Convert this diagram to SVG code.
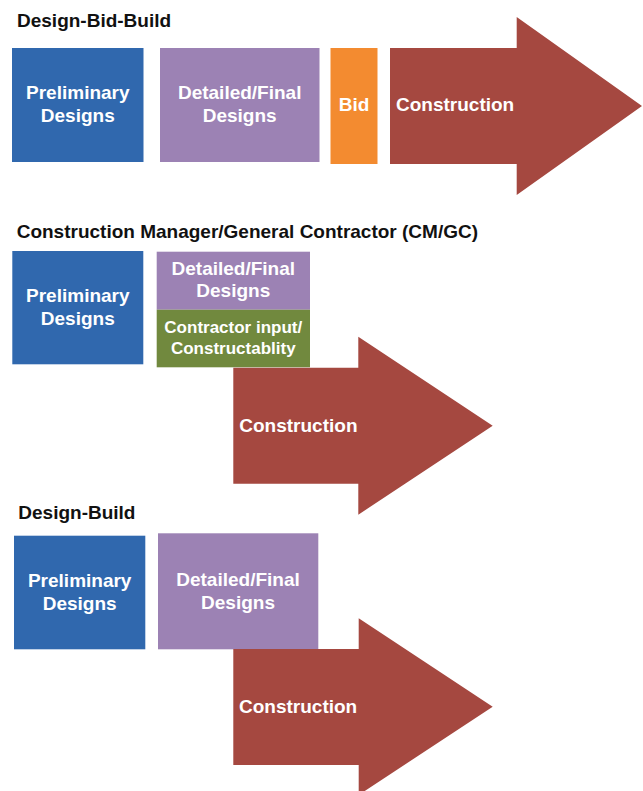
<svg xmlns="http://www.w3.org/2000/svg" width="643" height="791" viewBox="0 0 643 791">
<style>
text{font-family:"Liberation Sans",Arial,sans-serif;font-weight:bold}
.title{font-size:19px;fill:#111}
.lbl{font-size:19px;fill:#fff;text-anchor:middle}
.lbll{font-size:19px;fill:#fff}
.sm{font-size:17px;fill:#fff;text-anchor:middle}
.blue{fill:#3068ae}
.purple{fill:#9c82b4}
.orange{fill:#f38b30}
.green{fill:#71893e}
.red{fill:#a54840}
</style>
<rect width="643" height="791" fill="#fff"/>
<!-- Design-Bid-Build -->
<g id="dbb">
<text class="title" x="17" y="27">Design-Bid-Build</text>
<g id="dbb-prelim">
<rect class="blue" x="12" y="48" width="131.5" height="114"/>
<text class="lbl" x="77.8" y="99">Preliminary</text>
<text class="lbl" x="77.8" y="121.7">Designs</text>
</g>
<g id="dbb-detailed">
<rect class="purple" x="160" y="48" width="159.5" height="114"/>
<text class="lbl" x="239.7" y="99">Detailed/Final</text>
<text class="lbl" x="239.7" y="121.7">Designs</text>
</g>
<g id="dbb-bid">
<rect class="orange" x="330.5" y="48" width="47" height="116"/>
<text class="lbl" x="354" y="111">Bid</text>
</g>
<g id="dbb-construction">
<path class="red" d="M390,48 H516.7 V17 L642,106 L516.7,195 V164 H390 Z"/>
<text class="lbll" x="396" y="111">Construction</text>
</g>
</g>
<!-- CM/GC -->
<g id="cmgc">
<text class="title" x="16.7" y="237.7">Construction Manager/General Contractor (CM/GC)</text>
<g id="cmgc-prelim">
<rect class="blue" x="12.3" y="251" width="131" height="113.3"/>
<text class="lbl" x="77.8" y="302.3">Preliminary</text>
<text class="lbl" x="77.8" y="325">Designs</text>
</g>
<g id="cmgc-detailed">
<rect class="purple" x="156.7" y="251.7" width="153.3" height="58"/>
<text class="lbl" x="233.3" y="275">Detailed/Final</text>
<text class="lbl" x="233.3" y="297.3">Designs</text>
</g>
<g id="cmgc-contractor">
<rect class="green" x="156.7" y="309.7" width="153.3" height="57.6"/>
<text class="sm" x="233.3" y="333.3">Contractor input/</text>
<text class="sm" x="233.3" y="354.3">Constructablity</text>
</g>
<g id="cmgc-construction">
<path class="red" d="M233.3,367.7 H358.3 V336.7 L492.7,425.7 L358.3,514.7 V483.7 H233.3 Z"/>
<text class="lbll" x="239.3" y="431.7">Construction</text>
</g>
</g>
<!-- Design-Build -->
<g id="db">
<text class="title" x="18.3" y="519.3">Design-Build</text>
<g id="db-prelim">
<rect class="blue" x="14" y="535.7" width="131.3" height="113.6"/>
<text class="lbl" x="79.7" y="587.3">Preliminary</text>
<text class="lbl" x="79.7" y="610">Designs</text>
</g>
<g id="db-detailed">
<rect class="purple" x="158" y="533.3" width="160.3" height="116"/>
<text class="lbl" x="238" y="585.7">Detailed/Final</text>
<text class="lbl" x="238" y="609">Designs</text>
</g>
<g id="db-construction">
<path class="red" d="M233.3,649 H358.7 V618.3 L492.7,706.7 L358.7,795 V765 H233.3 Z"/>
<text class="lbll" x="239" y="712.7">Construction</text>
</g>
</g>
<g id="connectors"/>
</svg>
